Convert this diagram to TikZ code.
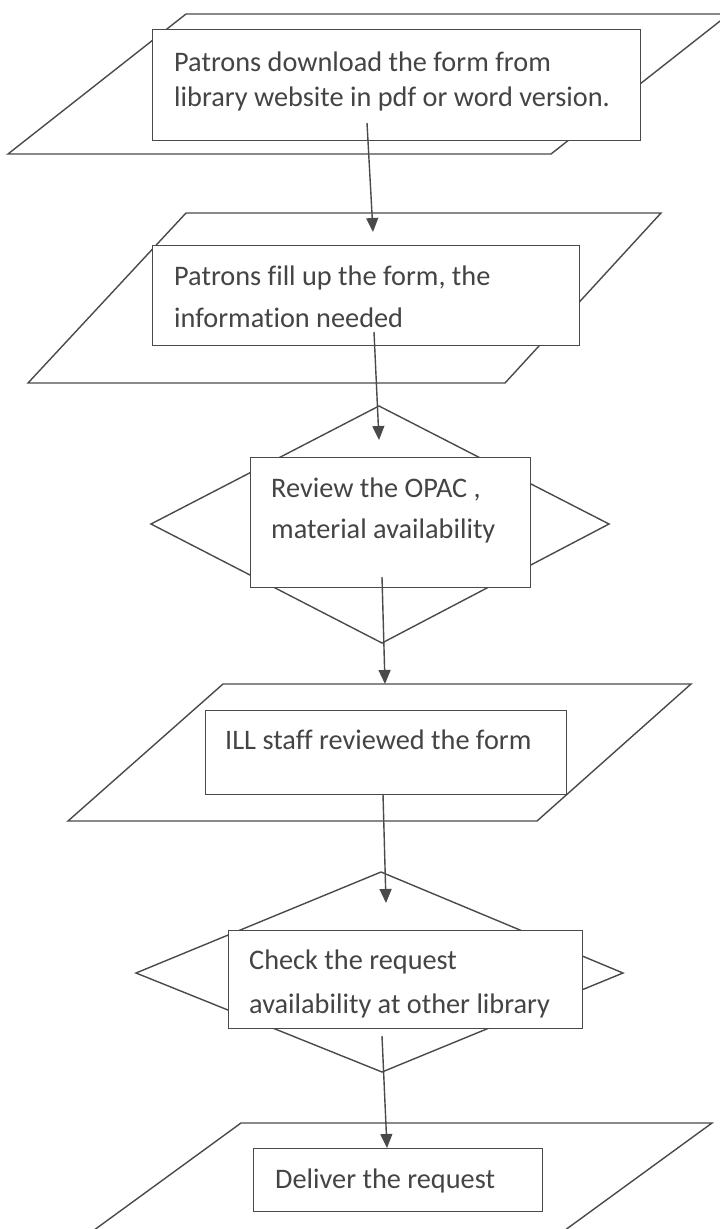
\documentclass[tikz,border=0pt]{standalone}
\usepackage{fontspec}
\setmainfont{Carlito}[Ligatures=NoCommon]
\usetikzlibrary{arrows.meta}
\definecolor{ink}{HTML}{4A4A4A}
\definecolor{txt}{HTML}{444444}
\begin{document}
\begin{tikzpicture}[x=1pt,y=-1pt,
  outline/.style={draw=ink, line width=1.4pt, line join=miter, fill=white},
  stepbox/.style={rectangle, draw=ink, line width=1.4pt, fill=white,
    inner sep=0pt, anchor=north west},
  steptext/.style={anchor=base west, inner sep=0pt, text=txt,
    font=\fontsize{28.3}{34}\selectfont},
  flow/.style={draw=ink, line width=1.4pt, -{Triangle[length=14pt,width=12pt]}}]
\useasboundingbox (0,0) rectangle (720,1229);
\clip (0,0) rectangle (720,1229);

% step 1: download the form
\path[outline] (8,154) -- (551,154) -- (729,14) -- (186,14) -- cycle;
\node[stepbox, minimum width=488pt, minimum height=111pt] (b1) at (152,29) {};
\node[steptext] (t1a) at (174,71) {Patrons download the form from};
\node[steptext] (t1b) at (174,106) {library website in pdf or word version.};

% step 2: fill up the form
\path[outline] (28,383) -- (505,383) -- (661,213) -- (186,213) -- cycle;
\node[stepbox, minimum width=427pt, minimum height=100pt] (b2) at (152,245) {};
\node[steptext] (t2a) at (174,285) {Patrons fill up the form, the};
\node[steptext] (t2b) at (174,327) {information needed};

% step 3: review the OPAC (decision)
\path[outline] (379,406) -- (609,524) -- (382,643) -- (151,524) -- cycle;
\node[stepbox, minimum width=280pt, minimum height=130pt] (b3) at (250,457) {};
\node[steptext] (t3a) at (271,497) {Review the OPAC ,};
\node[steptext] (t3b) at (271,538) {material availability};

% step 4: staff review
\path[outline] (68,821) -- (537,821) -- (691,684) -- (223,684) -- cycle;
\node[stepbox, minimum width=361pt, minimum height=84pt] (b4) at (205,710) {};
\node[steptext] (t4a) at (225,749) {ILL staff reviewed the form};

% step 5: check other libraries (decision)
\path[outline] (381,872) -- (623,973) -- (382,1072) -- (136,973) -- cycle;
\node[stepbox, minimum width=354pt, minimum height=98pt] (b5) at (228,930) {};
\node[steptext] (t5a) at (249,969) {Check the request};
\node[steptext] (t5b) at (249,1013) {availability at other library};

% step 6: delivery
\path[outline] (53,1260) -- (524,1260) -- (712,1123) -- (241,1123) -- cycle;
\node[stepbox, minimum width=289pt, minimum height=63pt] (b6) at (253,1148) {};
\node[steptext] (t6a) at (275,1188) {Deliver the request};

% connectors
\coordinate (a1s) at (367,123);  \coordinate (a1e) at (373,232);
\coordinate (a2s) at (374,332);  \coordinate (a2e) at (379,440);
\coordinate (a3s) at (382,577);  \coordinate (a3e) at (385,684);
\coordinate (a4s) at (383,794);  \coordinate (a4e) at (386,903);
\coordinate (a5s) at (382,1036); \coordinate (a5e) at (387,1148);
\draw[flow] (a1s) -- (a1e);
\draw[flow] (a2s) -- (a2e);
\draw[flow] (a3s) -- (a3e);
\draw[flow] (a4s) -- (a4e);
\draw[flow] (a5s) -- (a5e);
\end{tikzpicture}
\end{document}
